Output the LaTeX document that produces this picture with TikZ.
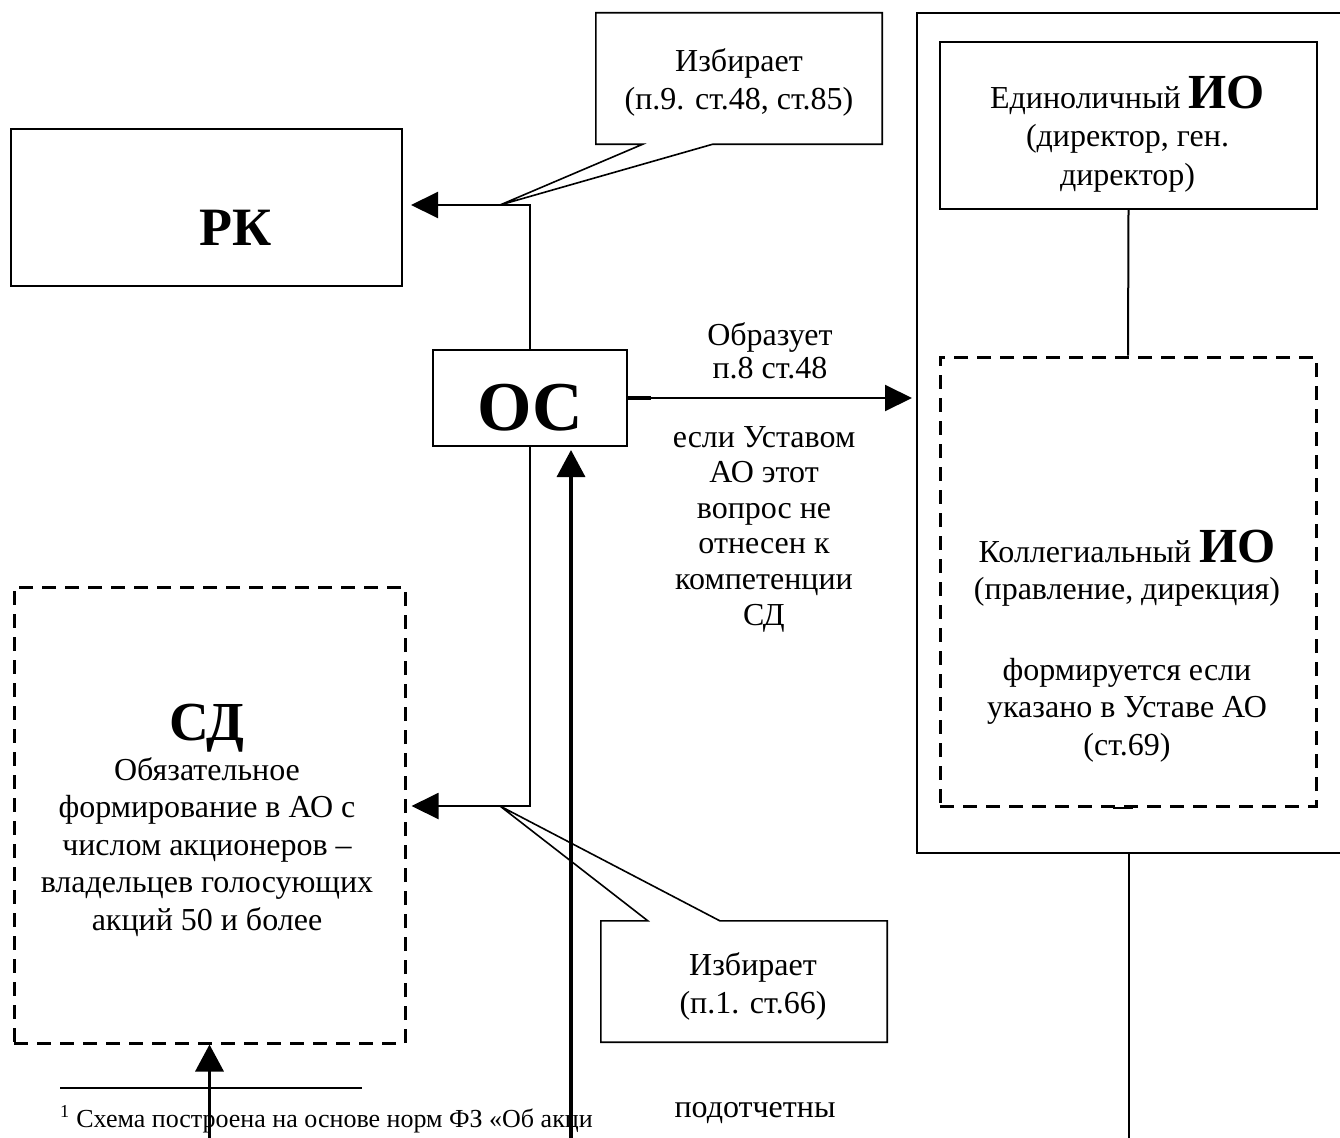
\documentclass[tikz,border=0pt]{standalone}
\usepackage{fontspec}
\setmainfont{Liberation Serif}
\usetikzlibrary{arrows.meta,positioning,calc}

\begin{document}
\begin{tikzpicture}[x=1pt,y=-1pt,
  every node/.style={font=\fontsize{32}{37.5}\selectfont},
  bx/.style={draw,line width=2pt,inner sep=0pt},
  dbx/.style={draw,line width=3pt,dash pattern=on 14pt off 9pt,inner sep=0pt},
  tx/.style={align=center,inner sep=0pt,anchor=base},
  ar/.style={line width=2pt,-{Triangle[length=27pt,width=26pt]}},
  tar/.style={line width=3.5pt,-{Triangle[length=27pt,width=28pt]}},
  cl/.style={line width=1.6pt}]
 \path[fill=white] (0,0) rectangle (1340,1137);
 \useasboundingbox (0,0) rectangle (1340,1137);
 % boxes
 \node[bx,minimum width=391pt,minimum height=157pt] (rk) at (206.5,207.5) {};
 \node[bx,minimum width=194pt,minimum height=96pt] (os) at (530,398) {};
 \node[dbx,minimum width=391pt,minimum height=456pt] (sd) at (209.5,815) {};
 \node[bx,minimum width=428pt,minimum height=840pt] (ao) at (1131,433) {};
 \node[bx,minimum width=377pt,minimum height=167pt] (eio) at (1128.5,125.5) {};
 \node[dbx,minimum width=376pt,minimum height=449pt] (kio) at (1128,581.5) {};
 \node[inner sep=0pt,minimum width=286pt,minimum height=131pt] (cb1) at (739,78.5) {};
 \node[inner sep=0pt,minimum width=286pt,minimum height=121pt] (cb2) at (744,981.5) {};
 \coordinate (j1) at (500,205);
 \coordinate (j2) at (500,806);
 \coordinate (b1) at (209.5,1140);
 \coordinate (b2) at (571,1140);
 \coordinate (b3) at (1128.5,1140);
 % texts (base = last line)
 \node[tx,font=\fontsize{54}{60}\selectfont\bfseries] (rkt) at (236,245) {РК};
 \node[tx,font=\fontsize{70}{76}\selectfont\bfseries] (ost) at (530,430) {ОС};
 \node[tx] (sdt) at (207,930) {{\fontsize{55}{55}\selectfont\bfseries СД}\\[2.5pt]Обязательное\\формирование в АО с\\числом акционеров –\\владельцев голосующих\\акций 50 и более};
 \node[tx,font=\fontsize{32}{38.5}\selectfont] (eit) at (1127.5,185) {Единоличный {\fontsize{49}{49}\selectfont\bfseries ИО}\\(директор, ген.\\директор)};
 \node[tx] (kit) at (1127,755) {Коллегиальный {\fontsize{49}{49}\selectfont\bfseries ИО}\\(правление, дирекция)\\[43pt]формируется если\\указано в Уставе АО\\(ст.69)};
 \node[tx,font=\fontsize{32}{38}\selectfont] (cb1t) at (739,110) {Избирает\\(п.9. ст.48, ст.85)};
 \node[tx,font=\fontsize{32}{38}\selectfont] (cb2t) at (753,1013) {Избирает\\(п.1. ст.66)};
 \node[tx,font=\fontsize{32}{33}\selectfont] (obr) at (770,378) {Образует\\п.8 ст.48};
 \node[tx,font=\fontsize{32}{35.6}\selectfont] (esli) at (764,625) {если Уставом\\АО этот\\вопрос не\\отнесен к\\компетенции\\СД};
 \node[tx] (pod) at (755,1117) {подотчетны};
 \draw[line width=1.5pt] (60,1088) -- (362,1088);
 \node[anchor=base west,inner sep=0pt,font=\fontsize{26}{30}\selectfont] (fn) at (60,1127) {\textsuperscript{1} Схема построена на основе норм ФЗ «Об акци};
 % callouts
 \draw[cl] (cb1.south west) -- ([xshift=47pt]cb1.south west) -- (j1) -- ([xshift=117pt]cb1.south west)
   -- (cb1.south east) -- (cb1.north east) -- (cb1.north west) -- cycle;
 \draw[cl] (cb2.north west) -- ([xshift=47pt]cb2.north west) -- (j2) -- ([xshift=119pt]cb2.north west)
   -- (cb2.north east) -- (cb2.south east) -- (cb2.south west) -- cycle;
 % connectors
 \draw[ar,shorten >=8pt] (os.north) |- (rk.east |- j1);
 \draw[ar,shorten >=5pt] (os.south) |- (sd.east |- j2);
 \draw[ar,shorten >=4pt] (os.east) -- (os.east -| ao.west);
 \draw[line width=3.5pt] (os.east) -- ++(23,0);
 \draw[line width=2pt] (eio.south) -- (kio.north);
 \draw[line width=2pt] ([xshift=-15pt]kio.south) -- ([xshift=5pt]kio.south);
 \draw[line width=2pt] (ao.south -| eio.south) -- (b3);
 \draw[tar] (b1) -- (sd.south);
 \draw[tar,shorten >=3pt] (b2) -- (b2 |- os.south);
\end{tikzpicture}
\end{document}
